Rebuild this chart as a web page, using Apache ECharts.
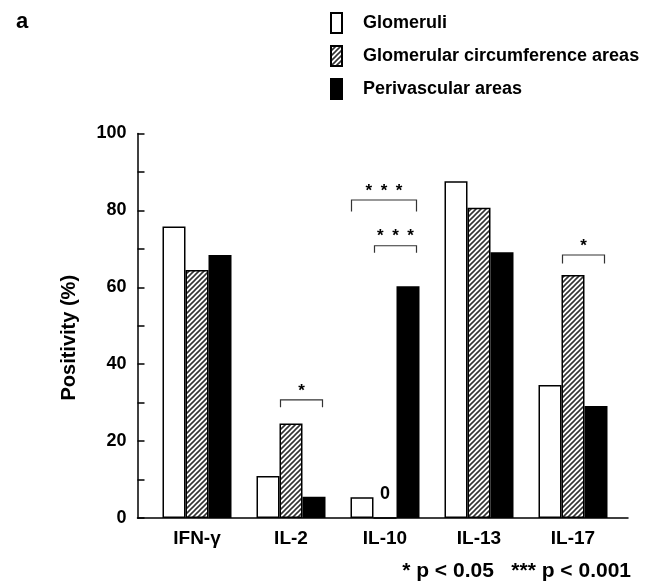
<!DOCTYPE html>
<html>
<head>
<meta charset="utf-8">
<script src="https://cdn.jsdelivr.net/npm/echarts@6/dist/echarts.min.js"></script>
<style>html,body{margin:0;padding:0;background:#fff;}#chart{width:648px;height:582px;}</style>
</head>
<body>
<div id="chart"></div>
<script>
const categories = ['IFN-γ', 'IL-2', 'IL-10', 'IL-13', 'IL-17'];
const seriesNames = ['Glomeruli', 'Glomerular circumference areas', 'Perivascular areas'];
const glomeruli = [75.8, 10.9, 5.4, 87.6, 34.6];
const circumference = [64.5, 24.6, 0, 80.7, 63.2];
const perivascular = [68.4, 5.5, 60.3, 69.1, 29.1];
const yMin = 0, yMax = 100, yStep = 10, yLabelStep = 20;

// significance brackets: category index, first bar, last bar, bracket top value, tick end value
const bracketCategory = [1, 2, 2, 4];
const bracketFrom = [1, 0, 1, 1];
const bracketTo = [2, 2, 2, 2];
const bracketTop = [30.7, 82.7, 70.8, 68.4];
const bracketTickEnd = [28.8, 79.7, 69.0, 66.2];
const bracketLabels = ['*', '*\u2002*\u2002*', '*\u2002*\u2002*', '*'];

const footnote = '* p < 0.05   *** p < 0.001';
const panelLabel = 'a';
const yAxisName = 'Positivity (%)';

const FONT = '"Liberation Sans", Arial, Helvetica, sans-serif';

function makeHatch() {
  const c = document.createElement('canvas');
  const s = 5;
  c.width = s; c.height = s;
  const g = c.getContext('2d');
  g.fillStyle = '#fff';
  g.fillRect(0, 0, s, s);
  g.strokeStyle = '#333';
  g.lineWidth = 1.6;
  g.beginPath();
  g.moveTo(0, s); g.lineTo(s, 0);
  g.moveTo(-1, 1); g.lineTo(1, -1);
  g.moveTo(s - 1, s + 1); g.lineTo(s + 1, s - 1);
  g.stroke();
  return c;
}
const hatch = { image: makeHatch(), repeat: 'repeat' };

const BAR_W = 23;
const chart = echarts.init(document.getElementById('chart'), null, { renderer: 'canvas' });

function renderBracket(params, api) {
  const i = params.dataIndex;
  const cat = api.value(0);
  const cx = api.coord([cat, 0])[0];
  const left = cx - 1.5 * BAR_W;
  const x0 = left + api.value(1) * BAR_W + 1;
  const x1 = left + (api.value(2) + 1) * BAR_W - 3;
  const yTop = api.coord([cat, api.value(3)])[1];
  const yBot = api.coord([cat, api.value(4)])[1];
  return {
    type: 'group',
    children: [
      { type: 'polyline', shape: { points: [[x0, yBot], [x0, yTop], [x1, yTop], [x1, yBot]] },
        style: { stroke: '#333', fill: null, lineWidth: 1.2 } },
      { type: 'text', x: (x0 + x1) / 2, y: yTop - 9,
        style: { text: bracketLabels[i], fill: '#000', font: 'bold 17px ' + FONT, align: 'center', verticalAlign: 'middle' } }
    ]
  };
}

const option = {
  backgroundColor: '#fff',
  animation: false,
  textStyle: { fontFamily: FONT },
  title: [
    { text: panelLabel, left: 11, top: 6, textStyle: { fontSize: 22, fontWeight: 'bold', color: '#000', fontFamily: FONT } },
    { text: footnote, right: 12, top: 556, textStyle: { fontSize: 21, fontWeight: 'bold', color: '#000', fontFamily: FONT } }
  ],
  legend: {
    orient: 'vertical', left: 325, top: 7,
    itemWidth: 11, itemHeight: 20, itemGap: 11,
    icon: 'rect',
    data: seriesNames,
    textStyle: { fontSize: 18, fontWeight: 'bold', color: '#000', fontFamily: FONT, padding: [0, 0, 0, 16] }
  },
  grid: [
    { left: 150, right: 28, top: 133.5, bottom: 64 },
    { left: 137.5, right: 20, top: 133.5, bottom: 64 }
  ],
  xAxis: [
    { type: 'category', gridIndex: 0, data: categories,
      axisLine: { show: false }, axisTick: { show: false },
      axisLabel: { fontSize: 19, fontWeight: 'bold', color: '#000', margin: 11, fontFamily: FONT } },
    { type: 'category', gridIndex: 1, data: categories,
      axisLine: { show: true, lineStyle: { color: '#000', width: 1.5 } },
      axisTick: { show: false }, axisLabel: { show: false } }
  ],
  yAxis: [
    { type: 'value', gridIndex: 0, min: yMin, max: yMax, interval: yStep, show: false, splitLine: { show: false } },
    { type: 'value', gridIndex: 1, min: yMin, max: yMax, interval: yStep,
      axisLine: { show: true, lineStyle: { color: '#000', width: 1.5 } },
      axisTick: { show: true, inside: true, length: 7, lineStyle: { color: '#000', width: 1.5 } },
      splitLine: { show: false },
      axisLabel: { fontSize: 18, fontWeight: 'bold', color: '#000', margin: 11, fontFamily: FONT,
        formatter: v => (v % yLabelStep === 0 ? String(v) : '') },
      name: yAxisName, nameLocation: 'middle', nameRotate: 90, nameGap: 58,
      nameTextStyle: { fontSize: 20, fontWeight: 'bold', color: '#000', fontFamily: FONT, padding: [0, 24, 0, 0] } }
  ],
  series: [
    { name: seriesNames[0], type: 'bar', xAxisIndex: 0, yAxisIndex: 0, data: glomeruli,
      barWidth: BAR_W, barGap: '0%',
      itemStyle: { color: '#fff', borderColor: '#000', borderWidth: 1.5 } },
    { name: seriesNames[1], type: 'bar', xAxisIndex: 0, yAxisIndex: 0, data: circumference,
      barWidth: BAR_W, barGap: '0%',
      itemStyle: { color: hatch, borderColor: '#000', borderWidth: 1.5 },
      label: { show: true, position: 'top', distance: 14, fontSize: 18, fontWeight: 'bold', color: '#000', fontFamily: FONT,
        formatter: p => (p.value === 0 ? '0' : '') } },
    { name: seriesNames[2], type: 'bar', xAxisIndex: 0, yAxisIndex: 0, data: perivascular,
      barWidth: BAR_W, barGap: '0%',
      itemStyle: { color: '#000', borderColor: '#000', borderWidth: 1.5 } },
    { type: 'custom', xAxisIndex: 0, yAxisIndex: 0, renderItem: renderBracket,
      encode: { x: 0, y: 3 }, silent: true, z: 5,
      data: bracketCategory.map((c, i) => [c, bracketFrom[i], bracketTo[i], bracketTop[i], bracketTickEnd[i]]) }
  ]
};
chart.setOption(option);
</script>
</body>
</html>
